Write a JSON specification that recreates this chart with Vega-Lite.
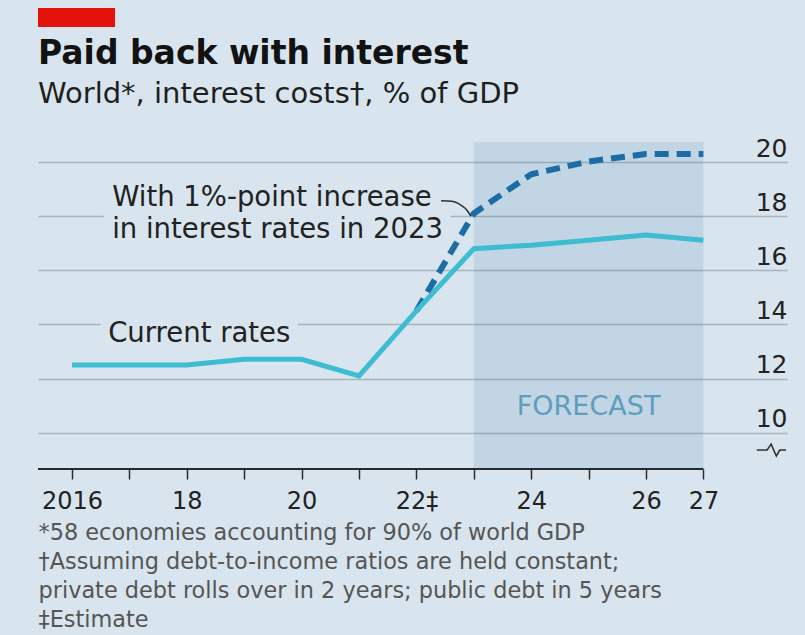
{
  "$schema": "https://vega.github.io/schema/vega-lite/v6.json",
  "width": 749,
  "height": 327,
  "autosize": {"type": "none"},
  "padding": {"left": 38, "top": 142, "right": 18, "bottom": 166},
  "background": "#d9e5ee",
  "config": {"view": {"stroke": null}},
  "title": {
    "text": "Paid back with interest",
    "subtitle": "World*, interest costs†, % of GDP",
    "anchor": "start",
    "frame": "group",
    "font": "DejaVu Sans",
    "fontSize": 33,
    "fontWeight": "bold",
    "color": "#121212",
    "subtitleFont": "DejaVu Sans",
    "subtitleFontSize": 29,
    "subtitleColor": "#1f1f1f",
    "subtitlePadding": 9,
    "offset": -101
  },
  "datasets": {
    "rates": [
      {"year": 2016, "series": "Current rates", "value": 12.5},
      {"year": 2017, "series": "Current rates", "value": 12.5},
      {"year": 2018, "series": "Current rates", "value": 12.5},
      {"year": 2019, "series": "Current rates", "value": 12.71},
      {"year": 2020, "series": "Current rates", "value": 12.71},
      {"year": 2021, "series": "Current rates", "value": 12.1},
      {"year": 2022, "series": "Current rates", "value": 14.5},
      {"year": 2023, "series": "Current rates", "value": 16.8},
      {"year": 2024, "series": "Current rates", "value": 16.93},
      {"year": 2025, "series": "Current rates", "value": 17.11},
      {"year": 2026, "series": "Current rates", "value": 17.3},
      {"year": 2027, "series": "Current rates", "value": 17.11},
      {"year": 2022, "series": "With 1%-point increase", "value": 14.5},
      {"year": 2023, "series": "With 1%-point increase", "value": 18.1},
      {"year": 2024, "series": "With 1%-point increase", "value": 19.55},
      {"year": 2025, "series": "With 1%-point increase", "value": 20.02},
      {"year": 2026, "series": "With 1%-point increase", "value": 20.3},
      {"year": 2027, "series": "With 1%-point increase", "value": 20.3}
    ],
    "notes": [
      {"id": "inc", "label": "With 1%-point increase\nin interest rates in 2023"},
      {"id": "cur", "label": "Current rates"},
      {"id": "fc", "label": "FORECAST"}
    ],
    "connector": [
      {"year": 2022.43, "value": 18.57},
      {"year": 2022.62, "value": 18.55},
      {"year": 2022.78, "value": 18.4},
      {"year": 2022.88, "value": 18.22},
      {"year": 2022.95, "value": 18.0}
    ],
    "breakmark": [
      {"year": 2027.93, "value": 9.36},
      {"year": 2028.11, "value": 9.36},
      {"year": 2028.18, "value": 9.58},
      {"year": 2028.27, "value": 9.14},
      {"year": 2028.33, "value": 9.36},
      {"year": 2028.44, "value": 9.36}
    ],
    "forecast": [{"start": 2023, "end": 2027}]
  },
  "layer": [
    {
      "data": {"name": "forecast"},
      "mark": {"type": "rect", "color": "#1f6fa0", "opacity": 0.13},
      "encoding": {
        "x": {"field": "start", "type": "quantitative", "scale": {"domain": [2015.408, 2028.456], "nice": false, "zero": false}},
        "x2": {"field": "end"},
        "y": {"datum": 20.74, "type": "quantitative", "scale": {"domain": [8.66, 20.74], "nice": false, "zero": false}},
        "y2": {"datum": 8.66}
      }
    },
    {
      "data": {"name": "rates"},
      "transform": [{"filter": "datum.series == 'With 1%-point increase'"}],
      "mark": {"type": "line", "color": "#1c6ca6", "strokeWidth": 6, "strokeDash": [14, 8]},
      "encoding": {
        "x": {
          "field": "year", "type": "quantitative",
          "scale": {"domain": [2015.408, 2028.456], "nice": false, "zero": false},
          "axis": {
            "values": [2016, 2017, 2018, 2019, 2020, 2021, 2022, 2023, 2024, 2025, 2026, 2027],
            "labelExpr": "datum.value == 2016 ? '2016' : datum.value == 2018 ? '18' : datum.value == 2020 ? '20' : datum.value == 2022 ? '22‡' : datum.value == 2024 ? '24' : datum.value == 2026 ? '26' : datum.value == 2027 ? '27' : ''",
            "domain": false,
            "grid": false,
            "ticks": true,
            "tickSize": 10,
            "tickColor": "#2a2a2a",
            "tickWidth": 1.5,
            "labelFont": "DejaVu Sans",
            "labelFontSize": 24,
            "labelColor": "#222222",
            "labelBaseline": "alphabetic",
            "labelPadding": 29,
            "labelFlush": false,
            "labelOverlap": false,
            "labelBound": false,
            "title": ["*58 economies accounting for 90% of world GDP", "†Assuming debt-to-income ratios are held constant;", "private debt rolls over in 2 years; public debt in 5 years", "‡Estimate"],
            "titleX": 0,
            "titleY": 70,
            "titleAlign": "left",
            "titleAnchor": "start",
            "titleBaseline": "alphabetic",
            "titleFont": "DejaVu Sans",
            "titleFontSize": 22.4,
            "titleFontWeight": "normal",
            "titleColor": "#555555",
            "titleLineHeight": 29
          }
        },
        "y": {
          "field": "value", "type": "quantitative",
          "scale": {"domain": [8.66, 20.74], "nice": false, "zero": false},
          "axis": {
            "orient": "right",
            "values": [10, 12, 14, 16, 18, 20],
            "grid": true,
            "gridColor": "#a9b4bb",
            "gridWidth": 1.5,
            "domain": false,
            "ticks": false,
            "tickSize": 0,
            "labelAlign": "right",
            "labelBaseline": "alphabetic",
            "labelPadding": 0,
            "labelOffset": -6,
            "labelFont": "DejaVu Sans",
            "labelFontSize": 25,
            "labelColor": "#222222",
            "labelFlush": false,
            "labelOverlap": false,
            "labelBound": false,
            "title": null
          }
        }
      }
    },
    {
      "data": {"name": "rates"},
      "transform": [{"filter": "datum.series == 'Current rates'"}],
      "mark": {"type": "line", "color": "#3ebcd2", "strokeWidth": 5},
      "encoding": {
        "x": {"field": "year", "type": "quantitative", "scale": {"domain": [2015.408, 2028.456], "nice": false, "zero": false}},
        "y": {"field": "value", "type": "quantitative", "scale": {"domain": [8.66, 20.74], "nice": false, "zero": false}}
      }
    },
    {
      "data": {"name": "notes"},
      "transform": [{"filter": "datum.id == 'inc'"}],
      "mark": {"type": "text", "font": "DejaVu Sans", "fontSize": 27.5, "align": "left", "baseline": "alphabetic", "lineBreak": "\n", "lineHeight": 32, "fill": "#d9e5ee", "stroke": "#d9e5ee", "strokeWidth": 22, "strokeJoin": "round"},
      "encoding": {
        "x": {"datum": 2016.7, "type": "quantitative", "scale": {"domain": [2015.408, 2028.456], "nice": false, "zero": false}},
        "y": {"datum": 18.365, "type": "quantitative", "scale": {"domain": [8.66, 20.74], "nice": false, "zero": false}},
        "text": {"field": "label"}
      }
    },
    {
      "data": {"name": "notes"},
      "transform": [{"filter": "datum.id == 'inc'"}],
      "mark": {"type": "text", "font": "DejaVu Sans", "fontSize": 27.5, "align": "left", "baseline": "alphabetic", "lineBreak": "\n", "lineHeight": 32, "color": "#222222"},
      "encoding": {
        "x": {"datum": 2016.7, "type": "quantitative", "scale": {"domain": [2015.408, 2028.456], "nice": false, "zero": false}},
        "y": {"datum": 18.365, "type": "quantitative", "scale": {"domain": [8.66, 20.74], "nice": false, "zero": false}},
        "text": {"field": "label"}
      }
    },
    {
      "data": {"name": "notes"},
      "transform": [{"filter": "datum.id == 'cur'"}],
      "mark": {"type": "text", "font": "DejaVu Sans", "fontSize": 27.5, "align": "left", "baseline": "alphabetic", "fill": "#d9e5ee", "stroke": "#d9e5ee", "strokeWidth": 20, "strokeJoin": "round"},
      "encoding": {
        "x": {"datum": 2016.63, "type": "quantitative", "scale": {"domain": [2015.408, 2028.456], "nice": false, "zero": false}},
        "y": {"datum": 13.36, "type": "quantitative", "scale": {"domain": [8.66, 20.74], "nice": false, "zero": false}},
        "text": {"field": "label"}
      }
    },
    {
      "data": {"name": "notes"},
      "transform": [{"filter": "datum.id == 'cur'"}],
      "mark": {"type": "text", "font": "DejaVu Sans", "fontSize": 27.5, "align": "left", "baseline": "alphabetic", "color": "#222222"},
      "encoding": {
        "x": {"datum": 2016.63, "type": "quantitative", "scale": {"domain": [2015.408, 2028.456], "nice": false, "zero": false}},
        "y": {"datum": 13.36, "type": "quantitative", "scale": {"domain": [8.66, 20.74], "nice": false, "zero": false}},
        "text": {"field": "label"}
      }
    },
    {
      "data": {"name": "notes"},
      "transform": [{"filter": "datum.id == 'fc'"}],
      "mark": {"type": "text", "font": "DejaVu Sans", "fontSize": 27, "align": "center", "baseline": "alphabetic", "color": "#5f9dbd"},
      "encoding": {
        "x": {"datum": 2025.0, "type": "quantitative", "scale": {"domain": [2015.408, 2028.456], "nice": false, "zero": false}},
        "y": {"datum": 10.65, "type": "quantitative", "scale": {"domain": [8.66, 20.74], "nice": false, "zero": false}},
        "text": {"field": "label"}
      }
    },
    {
      "data": {"name": "connector"},
      "mark": {"type": "line", "color": "#333333", "strokeWidth": 1.6, "interpolate": "monotone"},
      "encoding": {
        "x": {"field": "year", "type": "quantitative", "scale": {"domain": [2015.408, 2028.456], "nice": false, "zero": false}},
        "y": {"field": "value", "type": "quantitative", "scale": {"domain": [8.66, 20.74], "nice": false, "zero": false}}
      }
    },
    {
      "data": {"name": "breakmark"},
      "mark": {"type": "line", "color": "#333333", "strokeWidth": 1.6},
      "encoding": {
        "x": {"field": "year", "type": "quantitative", "scale": {"domain": [2015.408, 2028.456], "nice": false, "zero": false}},
        "y": {"field": "value", "type": "quantitative", "scale": {"domain": [8.66, 20.74], "nice": false, "zero": false}}
      }
    },
    {
      "data": {"values": [{}]},
      "mark": {"type": "rule", "color": "#2a2a2a", "strokeWidth": 2},
      "encoding": {
        "x": {"datum": 2015.408, "type": "quantitative", "scale": {"domain": [2015.408, 2028.456], "nice": false, "zero": false}},
        "x2": {"datum": 2027.0},
        "y": {"datum": 8.66, "type": "quantitative", "scale": {"domain": [8.66, 20.74], "nice": false, "zero": false}}
      }
    },
    {
      "data": {"values": [{}]},
      "mark": {"type": "rect", "color": "#e3120b", "clip": false},
      "encoding": {
        "x": {"datum": 2015.408, "type": "quantitative", "scale": {"domain": [2015.408, 2028.456], "nice": false, "zero": false}},
        "x2": {"datum": 2016.75},
        "y": {"datum": 25.69, "type": "quantitative", "scale": {"domain": [8.66, 20.74], "nice": false, "zero": false}},
        "y2": {"datum": 24.99}
      }
    }
  ]
}
